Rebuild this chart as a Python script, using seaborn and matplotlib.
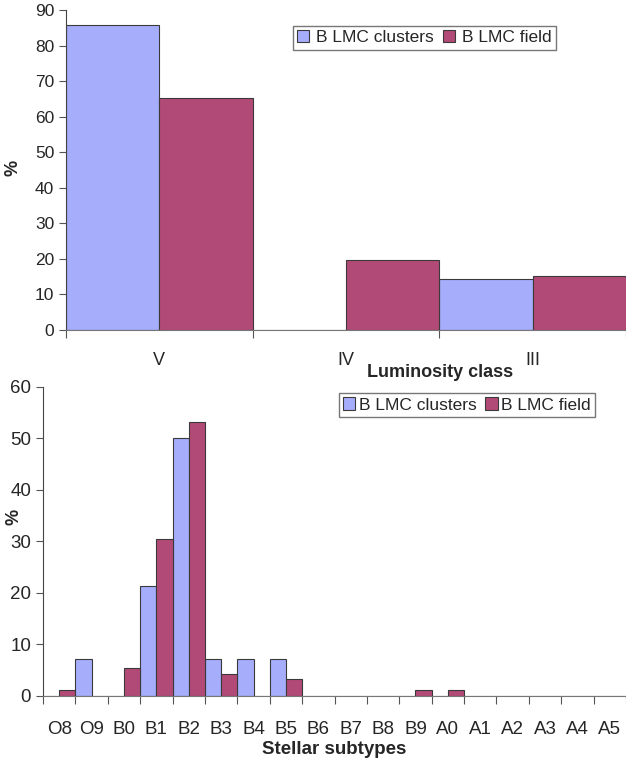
import seaborn as sns
import pandas as pd
import matplotlib.pyplot as plt
import numpy as np

# luminosity class distribution (%)
lum_classes = ['V', 'IV', 'III']
lum_clusters = [85.8, 0.0, 14.3]
lum_field = [65.2, 19.6, 15.1]

# stellar subtype distribution (%)
subtypes = ['O8', 'O9', 'B0', 'B1', 'B2', 'B3', 'B4', 'B5', 'B6', 'B7', 'B8',
            'B9', 'A0', 'A1', 'A2', 'A3', 'A4', 'A5']
sub_clusters = [0, 7.1, 0, 21.3, 50.0, 7.1, 7.1, 7.1, 0, 0, 0, 0, 0, 0, 0, 0, 0, 0]
sub_field = [1.1, 0, 5.4, 30.4, 53.2, 4.2, 0, 3.2, 0, 0, 0, 1.1, 1.1, 0, 0, 0, 0, 0]

series_names = ['B LMC clusters', 'B LMC field']
colors = ['#a6adfb', '#b24a77']

sns.set_style('white')
plt.rcParams['font.family'] = ['Liberation Sans', 'DejaVu Sans']


def long_df(cats, a, b):
    return pd.DataFrame({
        'cat': cats * 2,
        'val': list(a) + list(b),
        'series': [series_names[0]] * len(cats) + [series_names[1]] * len(cats),
    })


def style_axis(ax, n, ymax, fs):
    ax.set_xlim(-0.5, n - 0.5)
    ax.set_ylim(0, ymax)
    ax.set_yticks(np.arange(0, ymax + 1, 10))
    for s in ['top', 'right']:
        ax.spines[s].set_visible(False)
    ax.spines['left'].set_color('#444444')
    ax.spines['bottom'].set_color('#777777')
    ax.spines['left'].set_linewidth(0.8)
    ax.spines['bottom'].set_linewidth(0.8)
    ax.set_xticks(np.arange(-0.5, n), minor=True)
    ax.tick_params(axis='x', which='major', length=0, labelsize=fs)
    ax.tick_params(axis='x', which='minor', length=6, color='#555555', width=0.8, bottom=True)
    ax.tick_params(axis='y', length=5, color='#555555', width=0.8, labelsize=fs, left=True)
    ax.set_ylabel('%', fontsize=13, fontweight='bold')


fig = plt.figure(figsize=(6.26, 7.58), dpi=100)

ax1 = fig.add_axes([0.1054, 0.5646, 0.8946, 0.4222])
sns.barplot(data=long_df(lum_classes, lum_clusters, lum_field), x='cat', y='val',
            hue='series', palette=colors, width=1.0, gap=0, ax=ax1,
            edgecolor='#3a3a3a', linewidth=0.8, saturation=1)
style_axis(ax1, len(lum_classes), 90, 12.5)
ax1.tick_params(axis='x', which='major', pad=16, labelsize=13)
ax1.set_xlabel('Luminosity class', fontsize=13, fontweight='bold')
ax1.xaxis.set_label_coords(0.668, -0.105)
ax1.yaxis.set_label_coords(-0.079, 0.506)
ax1.get_legend().remove()
ax1.legend(loc='upper left', bbox_to_anchor=(0.468, 0.9657), bbox_transform=fig.transFigure,
           ncol=2, frameon=True, fancybox=False, edgecolor='#555555', fontsize=12.5,
           handlelength=0.7, handleheight=0.7, handletextpad=0.4, columnspacing=0.5,
           borderpad=0.25, borderaxespad=0)

ax2 = fig.add_axes([0.0687, 0.0822, 0.9313, 0.4077])
sns.barplot(data=long_df(subtypes, sub_clusters, sub_field), x='cat', y='val',
            hue='series', palette=colors, width=1.0, gap=0, ax=ax2,
            edgecolor='#3a3a3a', linewidth=0.8, saturation=1)
style_axis(ax2, len(subtypes), 60, 13.5)
ax2.tick_params(axis='x', which='major', pad=18)
ax2.set_xlabel('Stellar subtypes', fontsize=13.5, fontweight='bold')
ax2.xaxis.set_label_coords(0.5, -0.148)
ax2.yaxis.set_label_coords(-0.036, 0.578)
ax2.get_legend().remove()
ax2.legend(loc='upper left', bbox_to_anchor=(0.5415, 0.4815), bbox_transform=fig.transFigure,
           ncol=2, frameon=True, fancybox=False, edgecolor='#555555', fontsize=12.5,
           handlelength=0.7, handleheight=0.7, handletextpad=0.2, columnspacing=0.5,
           borderpad=0.25, borderaxespad=0)

fig.savefig('out.png', dpi=100)
